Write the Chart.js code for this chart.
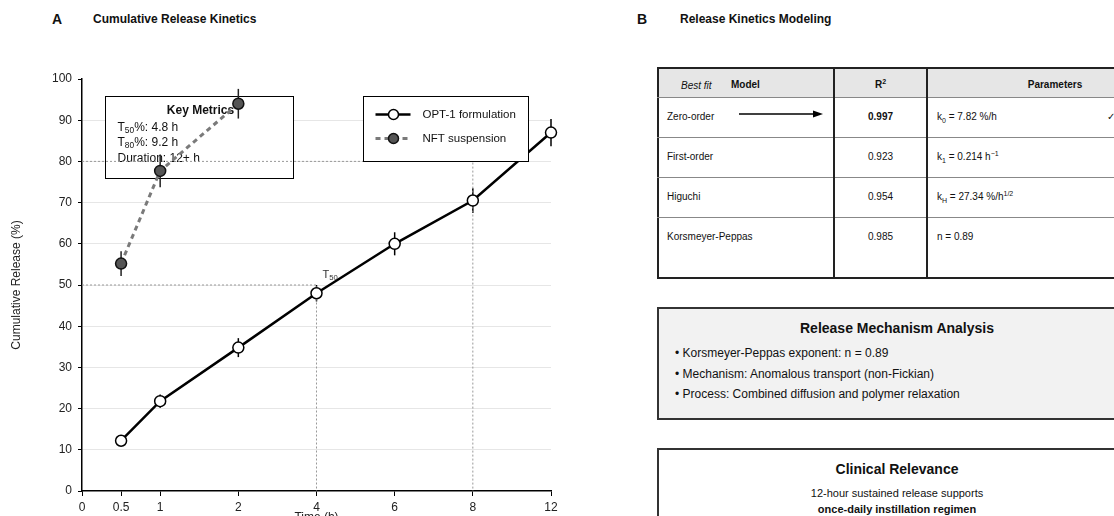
<!DOCTYPE html>
<html>
<head>
<meta charset="utf-8">
<script src="https://cdn.jsdelivr.net/npm/chart.js@4.4.1/dist/chart.umd.min.js"></script>
<style>
  body { margin: 0; width: 1114px; height: 516px; overflow: hidden; background: #fff;
         font-family: 'Liberation Sans', Arial, sans-serif; color: #111; position: relative; }
  .abs { position: absolute; white-space: nowrap; }
  .panel-letter { font-weight: bold; font-size: 14px; }
  .panel-title { font-weight: bold; font-size: 12px; }
  #chartA { position: absolute; left: 0; top: 0; }
  .cell { position: absolute; font-size: 10px; line-height: 12px; transform: translateY(-50%); white-space: nowrap; }
  sub, sup { font-size: 7px; line-height: 0; }
  .box { position: absolute; box-sizing: border-box; border: 2px solid #333; }
  .box-title { position: absolute; left: 0; right: 0; text-align: center; font-weight: bold; font-size: 14px; transform: translateY(-50%); }
  .bullet { position: absolute; font-size: 12px; transform: translateY(-50%); white-space: nowrap; }
  .centre { position: absolute; left: 0; right: 0; text-align: center; font-size: 11px; transform: translateY(-50%); }
</style>
</head>
<body>
<div class="abs panel-letter" style="left:52px; top:11px;">A</div>
<div class="abs panel-title" style="left:93px; top:12px;">Cumulative Release Kinetics</div>
<div class="abs panel-letter" style="left:637px; top:11px;">B</div>
<div class="abs panel-title" style="left:680px; top:12px;">Release Kinetics Modeling</div>

<canvas id="chartA" width="600" height="516"></canvas>
<div id="panelB"></div>

<script>
// ---- panel A data ----
const tickTimes = [0, 0.5, 1, 2, 4, 6, 8, 12];
const tickSlots = [0, 0.5, 1, 2, 3, 4, 5, 6];   // axis is evenly spaced after 1 h
const times = [0.5, 1, 2, 4, 6, 8, 12];
const opt1Release = [12.2, 21.8, 34.8, 48.0, 60.0, 70.5, 87.0];
const opt1Error = [1.0, 1.6, 2.3, 2.0, 2.8, 3.0, 3.3];
const nftTimes = [0.5, 1, 2];
const nftRelease = [55.2, 77.7, 94.0];
const nftError = [3.0, 4.0, 3.6];
const t50Mark = 4, t80Mark = 8;
const keyT50 = 4.8, keyT80 = 9.2, keyDuration = '12+';

// ---- panel B data ----
const models = ['Zero-order', 'First-order', 'Higuchi', 'Korsmeyer-Peppas'];
const r2Values = [0.997, 0.923, 0.954, 0.985];
const params = ['k<sub>0</sub> = 7.82 %/h', 'k<sub>1</sub> = 0.214 h<sup>−1</sup>',
                'k<sub>H</sub> = 27.34 %/h<sup>1/2</sup>', 'n = 0.89'];
const mechanismLines = ['Korsmeyer-Peppas exponent: n = 0.89',
                        'Mechanism: Anomalous transport (non-Fickian)',
                        'Process: Combined diffusion and polymer relaxation'];

const FONT = "'Liberation Sans', Arial, sans-serif";
Chart.defaults.font.family = FONT;
Chart.defaults.color = '#222';

const slot = t => tickSlots[tickTimes.indexOf(t)];
const toPts = (ts, vs) => ts.map((t, i) => ({ x: slot(t), y: vs[i] }));

// text with sub-scripted parts: [['T'], ['50', true], ['%: 4.8 h']]
function richText(ctx, parts, x, y, size) {
  parts.forEach(([s, sub]) => {
    ctx.font = (sub ? size * 0.7 : size) + 'px ' + FONT;
    ctx.fillText(s, x, sub ? y + size * 0.25 : y);
    x += ctx.measureText(s).width;
  });
}

function errorBars(ctx, xs, ys, ts, vs, es, color) {
  ctx.strokeStyle = color; ctx.lineWidth = 1.5;
  ts.forEach((t, i) => {
    const px = xs.getPixelForValue(slot(t));
    ctx.beginPath();
    ctx.moveTo(px, ys.getPixelForValue(vs[i] - es[i]));
    ctx.lineTo(px, ys.getPixelForValue(vs[i] + es[i]));
    ctx.stroke();
  });
}

const panelA = {
  id: 'panelA',
  beforeDatasetsDraw(chart) {
    const { ctx, chartArea: a, scales: { x, y } } = chart;
    ctx.save();
    // key metrics box
    const bx = a.left + 23.5, by = a.top + 17.5, bw = 188, bh = 82;
    ctx.fillStyle = '#fff'; ctx.fillRect(bx, by, bw, bh);
    ctx.strokeStyle = '#000'; ctx.lineWidth = 1; ctx.strokeRect(bx, by, bw, bh);
    ctx.fillStyle = '#111'; ctx.textBaseline = 'middle';
    ctx.font = 'bold 12px ' + FONT; ctx.textAlign = 'center';
    ctx.fillText('Key Metrics', bx + 95, by + 14);
    ctx.textAlign = 'left';
    richText(ctx, [['T'], ['50', true], ['%: ' + keyT50 + ' h']], bx + 12, by + 31, 12);
    richText(ctx, [['T'], ['80', true], ['%: ' + keyT80 + ' h']], bx + 12, by + 46, 12);
    richText(ctx, [['Duration: ' + keyDuration + ' h']], bx + 12, by + 62, 12);
    // error bars under the markers
    errorBars(ctx, x, y, times, opt1Release, opt1Error, '#000');
    errorBars(ctx, x, y, nftTimes, nftRelease, nftError, '#222');
    ctx.restore();
  },
  afterDatasetsDraw(chart) {
    const { ctx, chartArea: a, scales: { x, y } } = chart;
    ctx.save();
    // T50 label
    ctx.fillStyle = '#333'; ctx.textBaseline = 'middle'; ctx.textAlign = 'left';
    richText(ctx, [['T'], ['50', true]], x.getPixelForValue(slot(t50Mark)) + 6, y.getPixelForValue(52.5), 11);
    // legend
    const lx = 363.5, ly = a.top + 17.5, lw = 165, lh = 65;
    ctx.fillStyle = '#fff'; ctx.fillRect(lx, ly, lw, lh);
    ctx.strokeStyle = '#000'; ctx.lineWidth = 1; ctx.strokeRect(lx, ly, lw, lh);
    chart.data.datasets.filter(d => d.inLegend).forEach((d, i) => {
      const cy = ly + 18 + i * 24;
      ctx.strokeStyle = d.borderColor; ctx.lineWidth = d.borderWidth;
      ctx.setLineDash(d.borderDash || []);
      ctx.beginPath(); ctx.moveTo(lx + 12, cy); ctx.lineTo(lx + 47, cy); ctx.stroke();
      ctx.setLineDash([]);
      ctx.beginPath(); ctx.arc(lx + 30, cy, 5, 0, Math.PI * 2);
      ctx.fillStyle = d.pointBackgroundColor; ctx.fill();
      ctx.strokeStyle = d.pointBorderColor; ctx.lineWidth = 1.5; ctx.stroke();
      ctx.fillStyle = '#111'; ctx.font = '11.5px ' + FONT;
      ctx.fillText(d.label, lx + 59, cy);
    });
    ctx.restore();
  },
  afterDraw(chart) {
    const { ctx, chartArea: a } = chart;
    ctx.save();
    ctx.fillStyle = '#222'; ctx.font = '12px ' + FONT; ctx.textAlign = 'center';
    ctx.textBaseline = 'top';
    ctx.fillText('Time (h)', (a.left + a.right) / 2, 512);
    ctx.translate(17, (a.top + a.bottom) / 2); ctx.rotate(-Math.PI / 2);
    ctx.textBaseline = 'middle';
    ctx.fillText('Cumulative Release (%)', 0, 0);
    ctx.restore();
  }
};

const refStyle = { borderColor: '#999', borderWidth: 1, borderDash: [2, 2], pointRadius: 0, order: 10, clip: false, showLine: true };

new Chart(document.getElementById('chartA'), {
  type: 'scatter',
  data: {
    datasets: [
      { label: 'OPT-1 formulation', inLegend: true, data: toPts(times, opt1Release), showLine: true,
        borderColor: '#000', borderWidth: 2.5, pointRadius: 5.5, pointBackgroundColor: '#fff',
        pointBorderColor: '#000', pointBorderWidth: 1.5, order: 1, clip: false },
      { label: 'NFT suspension', inLegend: true, data: toPts(nftTimes, nftRelease), showLine: true,
        borderColor: '#7a7a7a', borderWidth: 3, borderDash: [5, 4], pointRadius: 5.5,
        pointBackgroundColor: '#555', pointBorderColor: '#111', pointBorderWidth: 1.5, order: 0, clip: false },
      Object.assign({ label: 'T50 ref', data: [{ x: 0, y: 50 }, { x: slot(t50Mark), y: 50 }, { x: slot(t50Mark), y: 0 }] }, refStyle),
      Object.assign({ label: 'T80 ref', data: [{ x: 0, y: 80 }, { x: slot(t80Mark), y: 80 }, { x: slot(t80Mark), y: 0 }] }, refStyle)
    ]
  },
  options: {
    responsive: false,
    animation: false,
    devicePixelRatio: 1,
    layout: { padding: { left: 0, top: 79, right: 49, bottom: 0 } },
    plugins: { legend: { display: false }, tooltip: { enabled: false } },
    scales: {
      x: {
        type: 'linear', min: 0, max: 6,
        afterBuildTicks: s => { s.ticks = tickSlots.map(v => ({ value: v })); },
        afterFit: s => { s.height = 25; },
        ticks: { autoSkip: false, maxRotation: 0, padding: 4, font: { size: 12 },
                 callback: v => tickTimes[tickSlots.indexOf(v)] },
        grid: { drawOnChartArea: false, tickLength: 5, tickColor: '#000' },
        border: { color: '#000', width: 1.5 }
      },
      y: {
        min: 0, max: 100,
        afterFit: s => { s.width = 82; },
        ticks: { stepSize: 10, padding: 6, font: { size: 12 } },
        grid: { color: c => (c.tick && (c.tick.value === 100 || c.tick.value === 0)) ? 'rgba(0,0,0,0)' : '#e6e6e6',
                tickLength: 4, tickColor: '#000' },
        border: { color: '#000', width: 1.5 }
      }
    }
  },
  plugins: [panelA]
});

// ---- panel B ----
const B = document.getElementById('panelB');
function add(html) { B.insertAdjacentHTML('beforeend', html); }

const tL = 657, tT = 67, tW = 526, tH = 212, c1 = 834, c2 = 927, headH = 30, rowH = 40;
let t = `<div class="box" style="left:${tL}px;top:${tT}px;width:${tW}px;height:${tH}px;border-color:#222;"></div>`;
t += `<div class="abs" style="left:${tL + 2}px;top:${tT + 2}px;width:${tW - 4}px;height:${headH - 2}px;background:#e6e6e6;"></div>`;
models.forEach((m, i) => {
  t += `<div class="abs" style="left:${tL}px;top:${tT + headH + i * rowH}px;width:${tW}px;height:1px;background:#888;"></div>`;
});
[c1, c2].forEach(cx => { t += `<div class="abs" style="left:${cx - 1}px;top:${tT}px;width:2px;height:${tH}px;background:#222;"></div>`; });
t += `<div class="cell" style="left:${tL + 24}px;top:${tT + 19}px;font-style:italic;">Best fit</div>`;
t += `<div class="cell" style="left:${tL + 74}px;top:${tT + 18}px;font-weight:bold;">Model</div>`;
t += `<div class="cell" style="left:${c1}px;width:${c2 - c1}px;text-align:center;top:${tT + 18}px;font-weight:bold;">R<sup>2</sup></div>`;
t += `<div class="cell" style="left:${c2}px;width:${tL + tW - c2}px;text-align:center;top:${tT + 18}px;font-weight:bold;">Parameters</div>`;
const best = r2Values.indexOf(Math.max(...r2Values));
models.forEach((m, i) => {
  const cy = tT + headH + i * rowH + 20;
  const w = i === best ? 'font-weight:bold;' : '';
  t += `<div class="cell" style="left:${tL + 10}px;top:${cy}px;">${m}</div>`;
  t += `<div class="cell" style="left:${c1}px;width:${c2 - c1}px;text-align:center;top:${cy}px;${w}">${r2Values[i].toFixed(3)}</div>`;
  t += `<div class="cell" style="left:${c2 + 10}px;top:${cy}px;">${params[i]}</div>`;
  if (i === best) {
    t += `<svg class="abs" style="left:735px;top:${cy - 8}px;" width="95" height="12">
            <line x1="4" y1="5" x2="80" y2="5" stroke="#000" stroke-width="1.3"/>
            <polygon points="78,1.5 88,5 78,8.5" fill="#000"/></svg>`;
    t += `<div class="cell" style="left:1107px;top:${cy}px;">✓</div>`;
  }
});
add(t);

add(`<div class="box" style="left:657px;top:307px;width:480px;height:113px;background:#f2f2f2;">
  <div class="box-title" style="top:19px;">Release Mechanism Analysis</div>
  ${mechanismLines.map((s, i) => `<div class="bullet" style="left:16px;top:${44 + i * 20.5}px;">• ${s}</div>`).join('')}
</div>`);

add(`<div class="box" style="left:657px;top:448px;width:480px;height:100px;background:#fff;">
  <div class="box-title" style="top:19px;">Clinical Relevance</div>
  <div class="centre" style="top:43px;">12-hour sustained release supports</div>
  <div class="centre" style="top:59px;font-weight:bold;">once-daily instillation regimen</div>
</div>`);
</script>
</body>
</html>
